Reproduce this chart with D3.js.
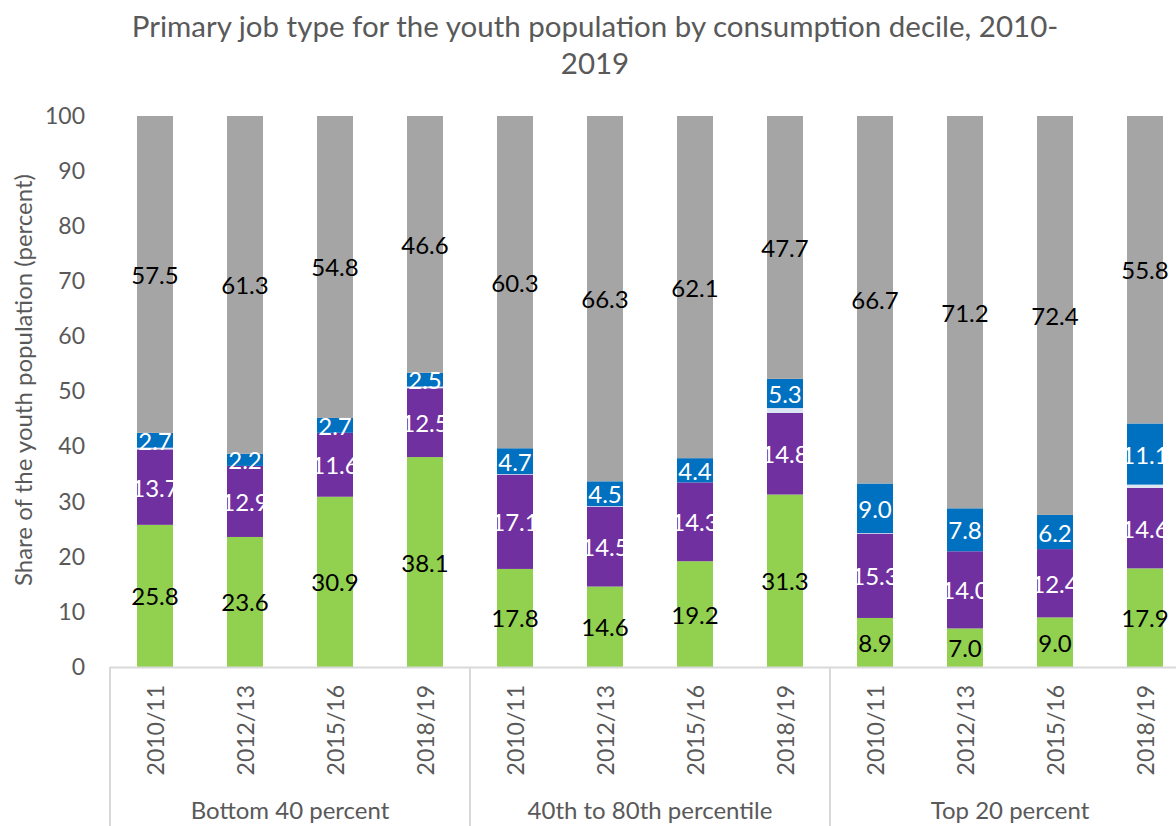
<!DOCTYPE html>
<html>
<head>
<meta charset="utf-8">
<script src="https://cdn.jsdelivr.net/npm/d3@7"></script>
<style>
  html, body { margin: 0; padding: 0; background: #ffffff; }
  svg { display: block; font-family: Lato, "Open Sans", sans-serif; }
</style>
</head>
<body>
<svg id="chart" width="1176" height="826"></svg>
<script>
// Survey rounds and consumption groups
const periods = ["2010/11", "2012/13", "2015/16", "2018/19"];
const groups = ["Bottom 40 percent", "40th to 80th percentile", "Top 20 percent"];
const yTicks = [0, 10, 20, 30, 40, 50, 60, 70, 80, 90, 100];

// Shares (percent), one value per group x period, in stacking order
const greenShare  = [25.8, 23.6, 30.9, 38.1, 17.8, 14.6, 19.2, 31.3, 8.9, 7.0, 9.0, 17.9];
const purpleShare = [13.7, 12.9, 11.6, 12.5, 17.1, 14.5, 14.3, 14.8, 15.3, 14.0, 12.4, 14.6];
const otherShare  = [0.3, 0.0, 0.0, 0.3, 0.1, 0.1, 0.0, 0.9, 0.1, 0.0, 0.0, 0.6];
const blueShare   = [2.7, 2.2, 2.7, 2.5, 4.7, 4.5, 4.4, 5.3, 9.0, 7.8, 6.2, 11.1];
const grayShare   = [57.5, 61.3, 54.8, 46.6, 60.3, 66.3, 62.1, 47.7, 66.7, 71.2, 72.4, 55.8];

const series = [
  { key: "green",  values: greenShare,  fill: "#92d050", text: "#000000", label: true },
  { key: "purple", values: purpleShare, fill: "#7030a0", text: "#ffffff", label: true },
  { key: "other",  values: otherShare,  fill: "#dce6f2", text: "#000000", label: false },
  { key: "blue",   values: blueShare,   fill: "#0070c0", text: "#ffffff", label: true },
  { key: "gray",   values: grayShare,   fill: "#a5a5a5", text: "#000000", label: true }
];

// One row per bar
const rows = [];
groups.forEach((g, gi) => periods.forEach((p, pi) => {
  const i = gi * periods.length + pi;
  const row = { id: i, group: g, period: p };
  series.forEach(s => { row[s.key] = s.values[i]; });
  rows.push(row);
}));

const svg = d3.select("#chart");
const axisColor = "#d9d9d9";
const textColor = "#595959";

const x = d3.scaleBand()
  .domain(rows.map(r => r.id))
  .range([110, 1190])
  .paddingInner(0.6)
  .paddingOuter(0.3);

const y = d3.scaleLinear().domain([0, 100]).range([667, 116]);

const stacked = d3.stack().keys(series.map(s => s.key))(rows);

// Title
svg.append("text")
  .attr("x", 595).attr("y", 37)
  .attr("text-anchor", "middle")
  .attr("font-size", 29.5).attr("fill", textColor)
  .text("Primary job type for the youth population by consumption decile, 2010-");
svg.append("text")
  .attr("x", 595).attr("y", 74)
  .attr("text-anchor", "middle")
  .attr("font-size", 29.5).attr("fill", textColor)
  .text("2019");

// Y axis (labels only)
const yAxis = svg.append("g")
  .attr("transform", "translate(110,0)")
  .call(d3.axisLeft(y).tickValues(yTicks).tickSize(0).tickPadding(25));
yAxis.select(".domain").remove();
yAxis.selectAll("text")
  .attr("font-family", "Lato, 'Open Sans', sans-serif")
  .attr("font-size", 23).attr("fill", textColor);

svg.append("text")
  .attr("transform", "translate(22,380) rotate(-90)")
  .attr("text-anchor", "middle")
  .attr("dominant-baseline", "central")
  .attr("font-size", 24).attr("fill", textColor)
  .text("Share of the youth population (percent)");

// Bars
const layers = svg.append("g").selectAll("g")
  .data(stacked)
  .join("g")
  .attr("fill", (d, i) => series[i].fill);

layers.selectAll("rect")
  .data(d => d)
  .join("rect")
  .attr("x", d => x(d.data.id))
  .attr("width", x.bandwidth())
  .attr("y", d => y(d[1]))
  .attr("height", d => y(d[0]) - y(d[1]));

// Data labels
const labelLayers = svg.append("g").selectAll("g")
  .data(stacked.filter((d, i) => series[i].label))
  .join("g")
  .attr("fill", d => series.find(s => s.key === d.key).text);

labelLayers.selectAll("text")
  .data(d => d.map(v => ({ v, key: d.key })))
  .join("text")
  .attr("x", d => x(d.v.data.id) + x.bandwidth() / 2)
  .attr("y", d => y((d.v[0] + d.v[1]) / 2))
  .attr("text-anchor", "middle")
  .attr("dominant-baseline", "central")
  .attr("font-size", 24)
  .text(d => d3.format(".1f")(d.v.data[d.key]));

// Category axis: baseline, group separators, period and group labels
const axisG = svg.append("g");
axisG.append("line")
  .attr("x1", 110).attr("x2", 1190)
  .attr("y1", 667.5).attr("y2", 667.5)
  .attr("stroke", axisColor).attr("stroke-width", 2);

const groupStep = x.step() * periods.length;
d3.range(groups.length + 1).forEach(k => {
  const gx = 110 + k * groupStep;
  axisG.append("line")
    .attr("x1", gx).attr("x2", gx)
    .attr("y1", 667).attr("y2", 826)
    .attr("stroke", axisColor).attr("stroke-width", 2);
});

axisG.selectAll("text.period")
  .data(rows)
  .join("text")
  .attr("class", "period")
  .attr("transform", d => `translate(${x(d.id) + x.bandwidth() / 2},685) rotate(-90)`)
  .attr("text-anchor", "end")
  .attr("dominant-baseline", "central")
  .attr("font-size", 23).attr("fill", textColor)
  .text(d => d.period);

axisG.selectAll("text.group")
  .data(groups)
  .join("text")
  .attr("class", "group")
  .attr("x", (d, k) => 110 + (k + 0.5) * groupStep)
  .attr("y", 819)
  .attr("text-anchor", "middle")
  .attr("font-size", 24).attr("fill", textColor)
  .text(d => d);
</script>
</body>
</html>
